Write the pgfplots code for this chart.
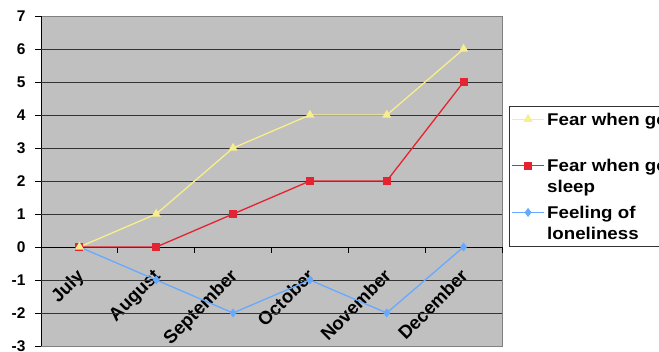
\documentclass[border=0pt]{standalone}
\usepackage{fontspec}
\setmainfont{Liberation Sans}
\newfontfamily\widefont[FakeStretch=1.1]{Liberation Sans}
\usepackage{pgfplots}
\pgfplotsset{compat=1.18}
\definecolor{exyellow}{RGB}{248,238,140}
\definecolor{exred}{RGB}{228,36,48}
\definecolor{exblue}{RGB}{102,170,255}
\definecolor{exgray}{RGB}{192,192,192}
\newcommand{\lentry}[1]{\parbox[t]{260pt}{\raggedright #1}}
\begin{document}
\begin{tikzpicture}
\path[use as bounding box] (0,0) rectangle (659pt,352pt);
\clip (0,0) rectangle (659pt,352pt);
\begin{axis}[
  at={(41pt,6pt)}, anchor=south west,
  scale only axis, width=461pt, height=330pt,
  xmin=-0.5, xmax=5.5, ymin=-3, ymax=7,
  axis x line=middle, axis y line=left,
  hide obscured x ticks=false, hide obscured y ticks=false,
  axis line style={-, black, line width=0.9pt},
  axis background/.style={fill=exgray, draw=black!50, line width=0.9pt},
  xtick={-0.5,0.5,1.5,2.5,3.5,4.5,5.5},
  x tick label as interval,
  xticklabels={July,August,September,October,November,December},
  xticklabel style={font=\bfseries\fontsize{18.5}{21}\selectfont, xshift=-4pt, yshift=-10pt, rotate=45, anchor=north east},
  ytick={-3,-2,...,7},
  yticklabel style={font=\bfseries\fontsize{15.5}{18}\selectfont, xshift=-6pt},
  /pgf/number format/assume math mode=true,
  tick style={black, line width=0.9pt},
  major tick length=6pt,
  tick align=outside,
  extra y ticks={-2,-1,1,2,3,4,5,6},
  extra y tick labels={},
  extra y tick style={grid=major, major tick length=0pt},
  grid style={black!80, line width=0.9pt},
  legend image code/.code={\draw[mark repeat=2,mark phase=2,#1] plot coordinates {(0pt,6pt) (16pt,6pt) (32pt,6pt)};},
  legend style={at={(1.0152,0.7273)}, anchor=north west, draw=black!80, fill=white, line width=0.8pt,
    font=\widefont\bfseries\fontsize{17}{21}\selectfont,
    inner xsep=2pt, inner ysep=4pt, nodes={inner sep=2.5pt, text depth=}, row sep=2pt,
    cells={anchor=base west}},
  reverse legend,
]
\addplot[color=exblue, line width=1.3pt, mark=diamond*, mark size=3.5pt, mark options={solid}] coordinates {(0,0) (1,-1) (2,-2) (3,-1) (4,-2) (5,0)};
\addlegendentry{\lentry{Feeling of\\loneliness}}
\addplot[color=exred, line width=1.3pt, mark=square*, mark size=3.4pt] coordinates {(0,0) (1,0) (2,1) (3,2) (4,2) (5,5)};
\addlegendentry{\lentry{Fear when going to\\sleep\strut}}
\addplot[color=exyellow, line width=1.3pt, mark=triangle*, mark size=4pt] coordinates {(0,0) (1,1) (2,3) (3,4) (4,4) (5,6)};
\addlegendentry{\lentry{Fear when going out\\\strut}}
\end{axis}
\end{tikzpicture}
\end{document}
